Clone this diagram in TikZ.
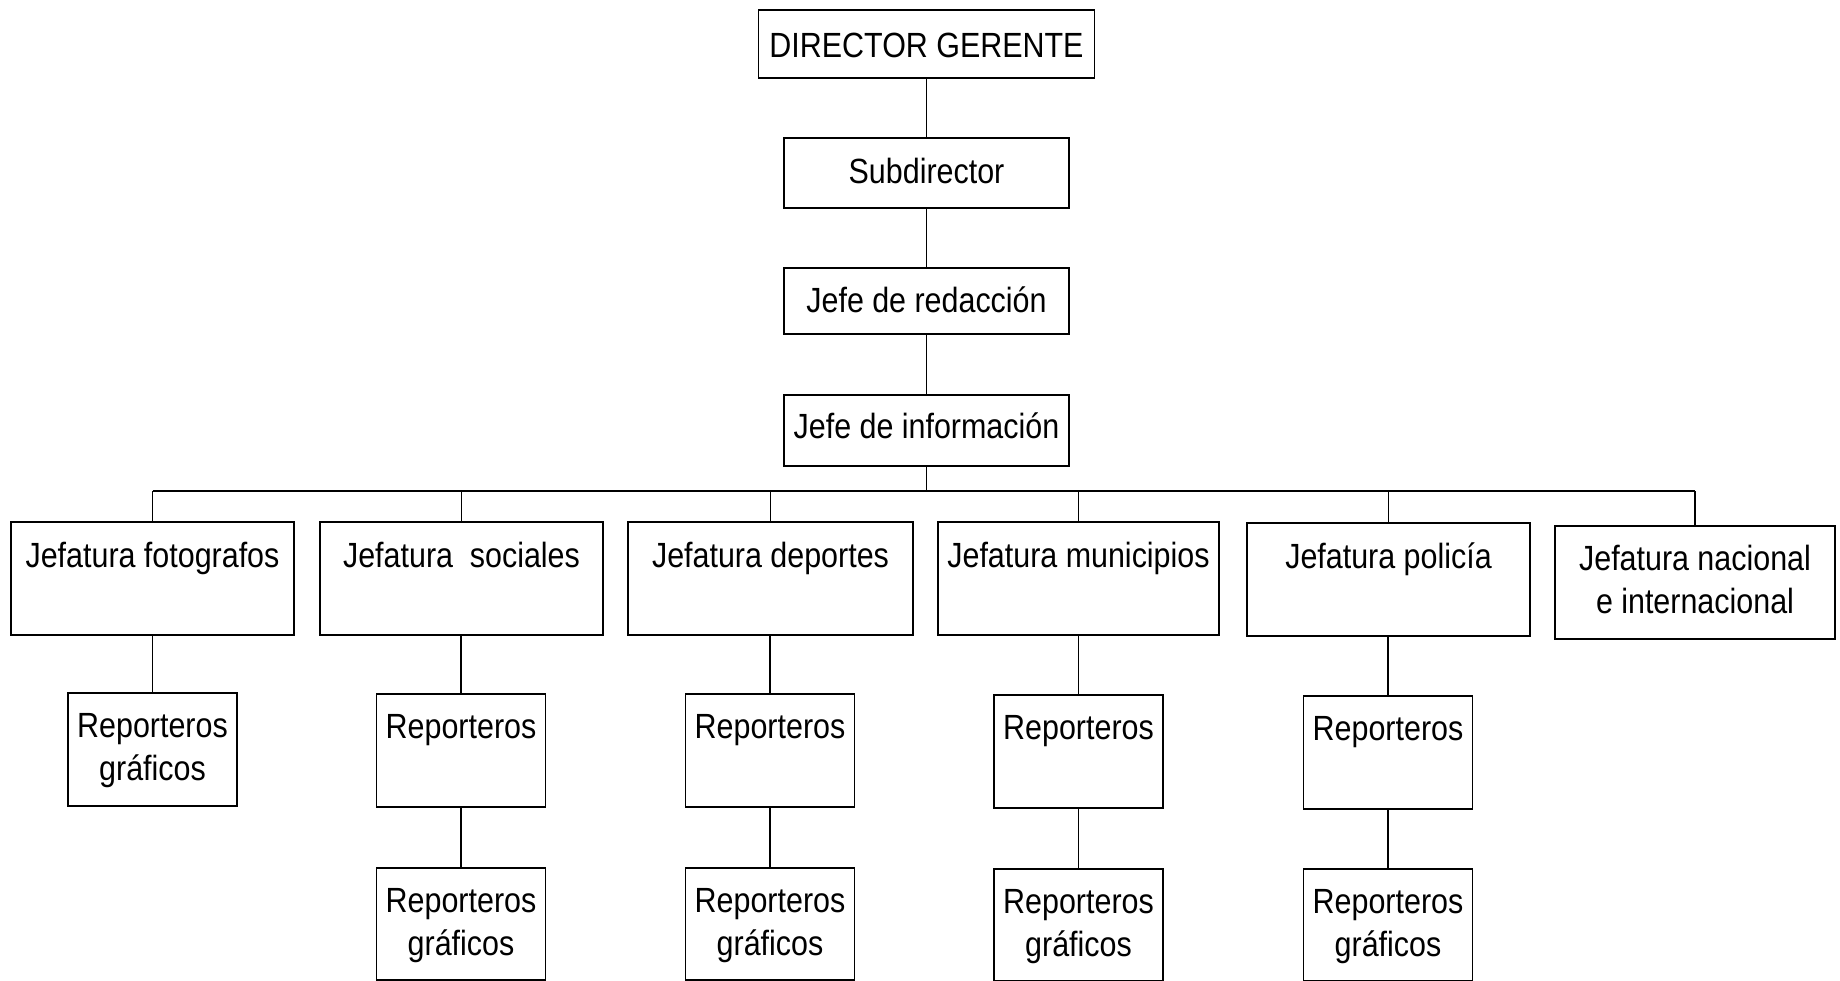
\documentclass[tikz,border=0pt]{standalone}
\usepackage{fontspec}
\setmainfont{Liberation Sans}[FakeStretch=0.87]
\begin{document}
\begin{tikzpicture}[x=0.5pt,y=-0.5pt,
  base/.style={draw, line width=0.8pt, inner sep=0pt, align=center, anchor=north,
    font=\fontsize{17.5pt}{21.5pt}\selectfont,
    execute at begin node={\setlength{\spaceskip}{4.2pt}}},
  topbox/.style={base, text width=142.5pt},
  jefbox/.style={base, text width=141.5pt, text height=23pt, text depth=33.5pt},
  repbox/.style={base, text width=84.5pt, text height=22.5pt, text depth=34pt},
  grabox/.style={base, text width=84.5pt, text height=22.5pt, text depth=33.5pt},
  conn/.style={line width=0.8pt}]
\fill[white] (0,0) rectangle (1840,980);
\useasboundingbox (0,0) rectangle (1840,980);

% top chain
\node[topbox, text width=168pt, text height=24pt, text depth=10pt] (dir) at (926.5,9) {DIRECTOR GERENTE};
\node[topbox, text height=23pt, text depth=12pt] (sub) at (926.5,137) {Subdirector};
\node[topbox, text height=22.5pt, text depth=10.5pt] (red) at (926.5,267) {Jefe de redacción};
\node[topbox, text height=22pt, text depth=13.5pt] (inf) at (926.5,394) {Jefe de información};
\coordinate (bus) at (926.5,491);

% first row
\node[jefbox] (f1) at (152.5,521) {Jefatura fotografos};
\node[jefbox] (f2) at (461.5,521) {Jefatura\ \ sociales};
\node[jefbox, text width=142.5pt] (f3) at (770.5,521) {Jefatura deportes};
\node[jefbox, text width=140.5pt] (f4) at (1078.5,521) {Jefatura municipios};
\node[jefbox] (f5) at (1388.5,522) {Jefatura policía};
\node[jefbox, text width=140pt, text height=22.5pt, text depth=34pt] (f6) at (1695,525) {Jefatura nacional\\e internacional};

% second row
\node[repbox] (r1) at (152.5,692) {Reporteros\\gráficos};
\node[repbox] (r2) at (461,693) {Reporteros};
\node[repbox] (r3) at (770,693) {Reporteros};
\node[repbox] (r4) at (1078.5,694) {Reporteros};
\node[repbox] (r5) at (1388,695) {Reporteros};

% third row
\node[grabox] (g2) at (461,867) {Reporteros\\gráficos};
\node[grabox] (g3) at (770,867) {Reporteros\\gráficos};
\node[grabox] (g4) at (1078.5,868) {Reporteros\\gráficos};
\node[grabox] (g5) at (1388,868) {Reporteros\\gráficos};

% connectors
\draw[conn] (dir.south) -- (sub.north);
\draw[conn] (sub.south) -- (red.north);
\draw[conn] (red.south) -- (inf.north);
\draw[conn] (inf.south) -- (inf.south |- bus);
\draw[conn] (f1.north |- bus) -- (f6.north |- bus);
\foreach \n in {f1,f2,f3,f4,f5,f6} \draw[conn] (\n.north) -- (\n.north |- bus);
\foreach \a/\b in {f1/r1,f2/r2,f3/r3,f4/r4,f5/r5,r2/g2,r3/g3,r4/g4,r5/g5}
  \draw[conn] (\b.north |- \a.south) -- (\b.north);
\end{tikzpicture}
\end{document}
